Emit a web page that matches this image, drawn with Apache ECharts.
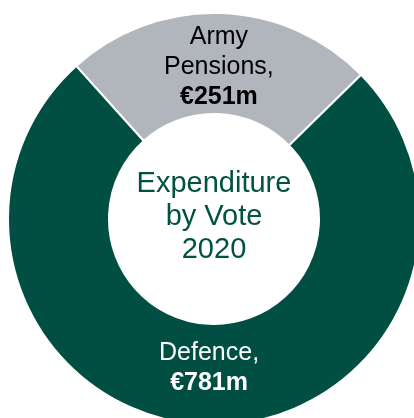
<!DOCTYPE html>
<html>
<head>
<meta charset="utf-8">
<script src="https://cdn.jsdelivr.net/npm/echarts@6/dist/echarts.min.js"></script>
<style>
  html, body { margin: 0; padding: 0; background: #fff; }
  #main { width: 414px; height: 418px; }
</style>
</head>
<body>
<div id="main"></div>
<script>
// expenditure by vote, 2020 (€m)
var categories = ["Army Pensions", "Defence"];
var values = [251, 781];
var sliceColors = ["#b1b5bc", "#004f42"];
var labelColors = ["#000000", "#ffffff"];
var labelShift = [[0, 7], [0, -9]];
var centerText = "Expenditure\nby Vote\n2020";

var chart = echarts.init(document.getElementById("main"));

var pieData = categories.map(function (c, i) {
  return {
    name: c,
    value: values[i],
    itemStyle: { color: sliceColors[i] },
    label: { color: labelColors[i], offset: labelShift[i] }
  };
});

chart.setOption({
  animation: false,
  graphic: [
    {
      type: "text",
      x: 214,
      y: 217,
      style: {
        text: centerText,
        font: "29px 'Liberation Sans', Arial, sans-serif",
        fill: "#005241",
        align: "center",
        verticalAlign: "middle",
        lineHeight: 33
      }
    }
  ],
  series: [
    {
      type: "pie",
      center: [214, 219],
      radius: [105, 206],
      startAngle: 132,
      clockwise: true,
      avoidLabelOverlap: false,
      itemStyle: { borderColor: "#ffffff", borderWidth: 2 },
      label: {
        show: true,
        position: "inside",
        formatter: function (p) {
          var words = p.name.split(" ");
          words[words.length - 1] += ",";
          return words.map(function (w) { return "{n|" + w + "}"; }).join("\n") +
            "\n{v|€" + p.value + "m}";
        },
        rich: {
          n: { fontFamily: "Liberation Sans", fontSize: 25, lineHeight: 30 },
          v: { fontFamily: "Liberation Sans", fontSize: 25, fontWeight: "bold", lineHeight: 30 }
        }
      },
      labelLine: { show: false },
      data: pieData
    }
  ]
});
</script>
</body>
</html>
